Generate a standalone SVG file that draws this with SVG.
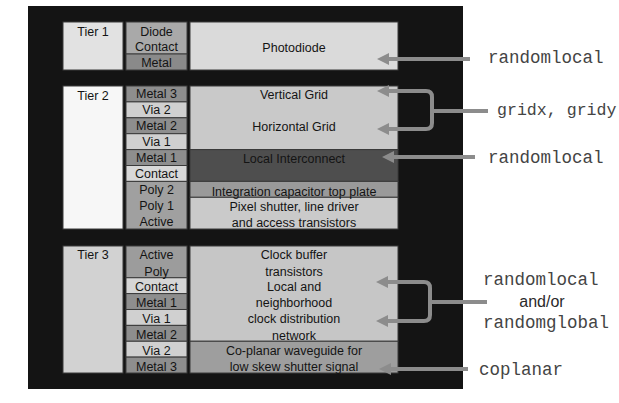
<svg xmlns="http://www.w3.org/2000/svg" width="619" height="403" viewBox="0 0 619 403">
<defs>
<style>
.t{font-family:"Liberation Sans",Arial,sans-serif;font-size:12.5px;fill:#141414;text-anchor:middle}
.m{font-family:"Liberation Mono","Courier New",monospace;font-size:17.5px;fill:#444444}
.s{font-family:"Liberation Sans",Arial,sans-serif;font-size:16px;fill:#2a2a2a}
.b{stroke:#3a3a3a;stroke-width:1}
.c{fill:none;stroke:#8c8c8c;stroke-width:4;stroke-linejoin:round}
</style>
<marker id="ah" viewBox="0 0 10 10" refX="0" refY="5" markerUnits="userSpaceOnUse" markerWidth="12" markerHeight="12" orient="auto">
<path d="M0,0 L10,5 L0,10 z" fill="#8c8c8c"/>
</marker>
</defs>
<rect x="0" y="0" width="619" height="403" fill="#ffffff"/>
<rect x="28" y="6" width="435" height="383" fill="#141414"/>

<g id="tier1">
<rect class="b" x="63" y="22" width="60" height="48" fill="#e2e2e2"/>
<text class="t" x="93" y="36">Tier 1</text>
<rect class="b" x="126" y="22" width="61" height="32" fill="#a9a9a9"/>
<rect class="b" x="126" y="54" width="61" height="16" fill="#8a8a8a"/>
<text class="t" x="156.5" y="36">Diode</text>
<text class="t" x="156.5" y="51">Contact</text>
<text class="t" x="156.5" y="67">Metal</text>
<rect class="b" x="190" y="22" width="208" height="48" fill="#dadada"/>
<text class="t" x="294" y="52">Photodiode</text>
</g>

<g id="tier2">
<rect class="b" x="63" y="86" width="60" height="143" fill="#f7f7f7"/>
<text class="t" x="93" y="100">Tier 2</text>
<rect class="b" x="126" y="86" width="61" height="15.9" fill="#8e8e8e"/>
<rect class="b" x="126" y="101.9" width="61" height="15.9" fill="#d0d0d0"/>
<rect class="b" x="126" y="117.8" width="61" height="15.9" fill="#8e8e8e"/>
<rect class="b" x="126" y="133.7" width="61" height="15.9" fill="#d0d0d0"/>
<rect class="b" x="126" y="149.6" width="61" height="15.9" fill="#8e8e8e"/>
<rect class="b" x="126" y="165.5" width="61" height="15.9" fill="#d8d8d8"/>
<rect class="b" x="126" y="181.4" width="61" height="47.6" fill="#a0a0a0"/>
<text class="t" x="156.5" y="98">Metal 3</text>
<text class="t" x="156.5" y="114">Via 2</text>
<text class="t" x="156.5" y="130">Metal 2</text>
<text class="t" x="156.5" y="146">Via 1</text>
<text class="t" x="156.5" y="162">Metal 1</text>
<text class="t" x="156.5" y="178">Contact</text>
<text class="t" x="156.5" y="194">Poly 2</text>
<text class="t" x="156.5" y="210">Poly 1</text>
<text class="t" x="156.5" y="226">Active</text>
<rect class="b" x="190" y="86" width="208" height="63.6" fill="#c9c9c9"/>
<rect class="b" x="190" y="149.6" width="208" height="31.8" fill="#4e4e4e"/>
<rect class="b" x="190" y="181.4" width="208" height="15.9" fill="#9a9a9a"/>
<rect class="b" x="190" y="197.3" width="208" height="31.7" fill="#cacaca"/>
<text class="t" x="294" y="99">Vertical Grid</text>
<text class="t" x="294" y="131">Horizontal Grid</text>
<text class="t" x="294" y="163" fill="#2a2a2a">Local Interconnect</text>
<text class="t" x="294" y="196">Integration capacitor top plate</text>
<text class="t" x="294" y="211">Pixel shutter, line driver</text>
<text class="t" x="294" y="227">and access transistors</text>
</g>

<g id="tier3">
<rect class="b" x="63" y="246" width="60" height="127" fill="#d2d2d2"/>
<text class="t" x="93" y="259">Tier 3</text>
<rect class="b" x="126" y="246" width="61" height="31.75" fill="#9c9c9c"/>
<rect class="b" x="126" y="277.75" width="61" height="15.875" fill="#d6d6d6"/>
<rect class="b" x="126" y="293.6" width="61" height="15.875" fill="#8e8e8e"/>
<rect class="b" x="126" y="309.5" width="61" height="15.875" fill="#d0d0d0"/>
<rect class="b" x="126" y="325.4" width="61" height="15.875" fill="#8e8e8e"/>
<rect class="b" x="126" y="341.25" width="61" height="15.875" fill="#d0d0d0"/>
<rect class="b" x="126" y="357.1" width="61" height="15.9" fill="#8e8e8e"/>
<text class="t" x="156.5" y="259">Active</text>
<text class="t" x="156.5" y="276">Poly</text>
<text class="t" x="156.5" y="291">Contact</text>
<text class="t" x="156.5" y="307">Metal 1</text>
<text class="t" x="156.5" y="323">Via 1</text>
<text class="t" x="156.5" y="339">Metal 2</text>
<text class="t" x="156.5" y="355">Via 2</text>
<text class="t" x="156.5" y="371">Metal 3</text>
<rect class="b" x="190" y="246" width="208" height="95.25" fill="#c6c6c6"/>
<rect class="b" x="190" y="341.25" width="208" height="31.75" fill="#9e9e9e"/>
<text class="t" x="294" y="259">Clock buffer</text>
<text class="t" x="294" y="276">transistors</text>
<text class="t" x="294" y="291">Local and</text>
<text class="t" x="294" y="307">neighborhood</text>
<text class="t" x="294" y="323">clock distribution</text>
<text class="t" x="294" y="340">network</text>
<text class="t" x="294" y="355">Co-planar waveguide for</text>
<text class="t" x="294" y="371">low skew shutter signal</text>
</g>

<g id="connectors">
<path class="c" d="M470,59 H389" marker-end="url(#ah)"/>
<path class="c" d="M488,111 H432"/>
<path class="c" d="M432,111 V97 Q432,91 426,91 H389" marker-end="url(#ah)"/>
<path class="c" d="M432,111 V123 Q432,129 426,129 H389" marker-end="url(#ah)"/>
<path class="c" d="M475,157 H394" marker-end="url(#ah)"/>
<path class="c" d="M487,302 H430"/>
<path class="c" d="M430,302 V288 Q430,282 424,282 H388" marker-end="url(#ah)"/>
<path class="c" d="M430,302 V315 Q430,321 424,321 H388" marker-end="url(#ah)"/>
<path class="c" d="M468,369 H391" marker-end="url(#ah)"/>
</g>

<g id="labels">
<text class="m" x="488" y="63">randomlocal</text>
<text class="m" x="497" y="115" style="font-size:16.6px">gridx, gridy</text>
<text class="m" x="488" y="163">randomlocal</text>
<text class="m" x="483" y="285">randomlocal</text>
<text class="s" x="542" y="307" text-anchor="middle">and/or</text>
<text class="m" x="483" y="328">randomglobal</text>
<text class="m" x="479" y="375">coplanar</text>
</g>
</svg>
